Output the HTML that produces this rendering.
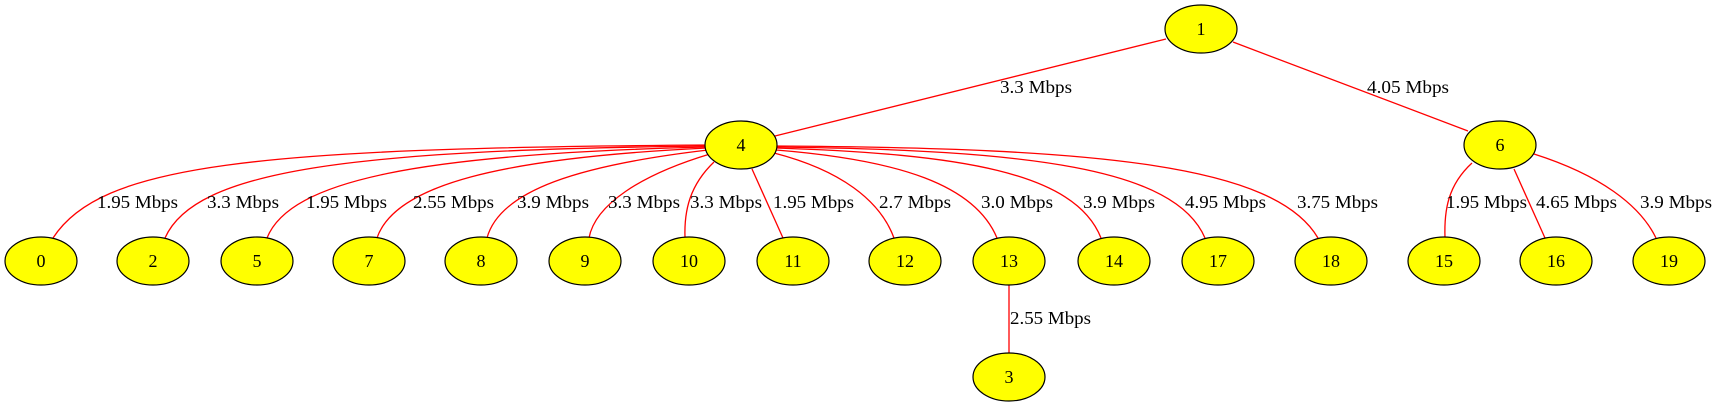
<!DOCTYPE html>
<html><head><style>body{margin:0;background:#fff}svg{display:block}text{font-family:"Liberation Serif",serif;font-size:18px;fill:#000}</style></head>
<body>
<svg width="1716" height="407" viewBox="0 0 1716 407">
<g fill="none" stroke="#f00" stroke-width="1.3">
<path d="M1166,39 L775,136"/>
<path d="M1233,42 L1468,131"/>
<path d="M706,145 C250,148 100,165 53,238"/>
<path d="M706,146 C350,150 195,170 165,238"/>
<path d="M706,147 C420,154 290,180 267,238"/>
<path d="M707,148 C500,158 395,185 377,238"/>
<path d="M708,150 C580,165 500,190 487,238"/>
<path d="M710,154 C640,175 595,205 589,238"/>
<path d="M714,162 C690,185 684,210 685,238"/>
<path d="M752,169 L783,238"/>
<path d="M774,153 C840,170 880,200 894,238"/>
<path d="M776,150 C900,160 975,185 997,238"/>
<path d="M776,148 C960,154 1075,172 1101,238"/>
<path d="M776,147 C1030,150 1175,168 1205,238"/>
<path d="M776,146 C1100,148 1275,165 1318,238"/>
<path d="M1472,163 C1448,185 1444,210 1445,238"/>
<path d="M1514,169 L1545,238"/>
<path d="M1534,154 C1600,175 1640,205 1656,238"/>
<path d="M1009,285 L1009,353"/>
</g>
<g fill="#ff0" stroke="#000" stroke-width="1.2">
<ellipse cx="1201" cy="29" rx="36" ry="24"/>
<ellipse cx="741" cy="145" rx="36" ry="24"/>
<ellipse cx="1500" cy="145" rx="36" ry="24"/>
<ellipse cx="41" cy="261" rx="36" ry="24"/>
<ellipse cx="153" cy="261" rx="36" ry="24"/>
<ellipse cx="257" cy="261" rx="36" ry="24"/>
<ellipse cx="369" cy="261" rx="36" ry="24"/>
<ellipse cx="481" cy="261" rx="36" ry="24"/>
<ellipse cx="585" cy="261" rx="36" ry="24"/>
<ellipse cx="689" cy="261" rx="36" ry="24"/>
<ellipse cx="793" cy="261" rx="36" ry="24"/>
<ellipse cx="905" cy="261" rx="36" ry="24"/>
<ellipse cx="1009" cy="261" rx="36" ry="24"/>
<ellipse cx="1114" cy="261" rx="36" ry="24"/>
<ellipse cx="1218" cy="261" rx="36" ry="24"/>
<ellipse cx="1331" cy="261" rx="36" ry="24"/>
<ellipse cx="1444" cy="261" rx="36" ry="24"/>
<ellipse cx="1556" cy="261" rx="36" ry="24"/>
<ellipse cx="1669" cy="261" rx="36" ry="24"/>
<ellipse cx="1009" cy="377" rx="36" ry="24"/>
</g>
<g text-anchor="middle">
<text x="1201" y="35">1</text><text x="741" y="151">4</text><text x="1500" y="151">6</text>
<text x="41" y="267">0</text><text x="153" y="267">2</text><text x="257" y="267">5</text><text x="369" y="267">7</text>
<text x="481" y="267">8</text><text x="585" y="267">9</text><text x="689" y="267">10</text><text x="793" y="267">11</text>
<text x="905" y="267">12</text><text x="1009" y="267">13</text><text x="1114" y="267">14</text><text x="1218" y="267">17</text>
<text x="1331" y="267">18</text><text x="1444" y="267">15</text><text x="1556" y="267">16</text><text x="1669" y="267">19</text>
<text x="1009" y="383">3</text>
</g>
<g>
<text x="1000" y="93" textLength="72" lengthAdjust="spacingAndGlyphs">3.3 Mbps</text>
<text x="1367" y="93" textLength="82" lengthAdjust="spacingAndGlyphs">4.05 Mbps</text>
<text x="97" y="208" textLength="81" lengthAdjust="spacingAndGlyphs">1.95 Mbps</text>
<text x="207" y="208" textLength="72" lengthAdjust="spacingAndGlyphs">3.3 Mbps</text>
<text x="306" y="208" textLength="81" lengthAdjust="spacingAndGlyphs">1.95 Mbps</text>
<text x="413" y="208" textLength="81" lengthAdjust="spacingAndGlyphs">2.55 Mbps</text>
<text x="517" y="208" textLength="72" lengthAdjust="spacingAndGlyphs">3.9 Mbps</text>
<text x="608" y="208" textLength="72" lengthAdjust="spacingAndGlyphs">3.3 Mbps</text>
<text x="690" y="208" textLength="72" lengthAdjust="spacingAndGlyphs">3.3 Mbps</text>
<text x="773" y="208" textLength="81" lengthAdjust="spacingAndGlyphs">1.95 Mbps</text>
<text x="879" y="208" textLength="72" lengthAdjust="spacingAndGlyphs">2.7 Mbps</text>
<text x="981" y="208" textLength="72" lengthAdjust="spacingAndGlyphs">3.0 Mbps</text>
<text x="1083" y="208" textLength="72" lengthAdjust="spacingAndGlyphs">3.9 Mbps</text>
<text x="1185" y="208" textLength="81" lengthAdjust="spacingAndGlyphs">4.95 Mbps</text>
<text x="1297" y="208" textLength="81" lengthAdjust="spacingAndGlyphs">3.75 Mbps</text>
<text x="1446" y="208" textLength="81" lengthAdjust="spacingAndGlyphs">1.95 Mbps</text>
<text x="1536" y="208" textLength="81" lengthAdjust="spacingAndGlyphs">4.65 Mbps</text>
<text x="1640" y="208" textLength="72" lengthAdjust="spacingAndGlyphs">3.9 Mbps</text>
<text x="1010" y="324" textLength="81" lengthAdjust="spacingAndGlyphs">2.55 Mbps</text>
</g>
</svg>
</body></html>
